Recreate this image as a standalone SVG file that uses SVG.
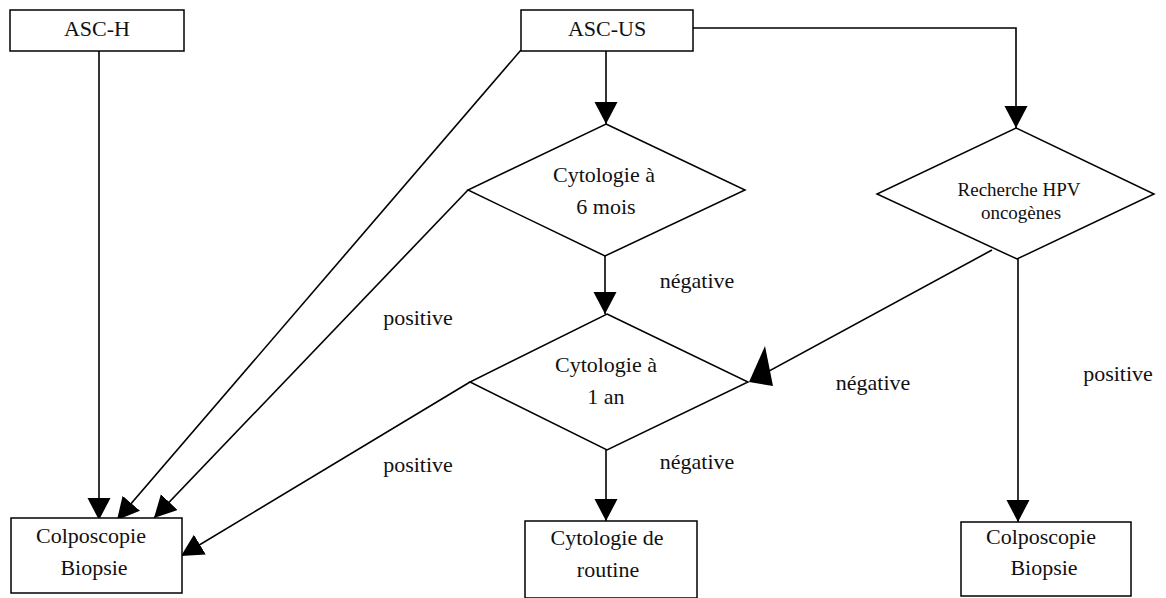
<svg xmlns="http://www.w3.org/2000/svg" width="1166" height="598" viewBox="0 0 1166 598">
<style>
.box{fill:#fff;stroke:#000;stroke-width:1.5}
.t{font-family:"Liberation Serif","Times New Roman",serif;font-size:22px;fill:#111;text-anchor:middle}
.s{font-size:19px}
.c{fill:none;stroke:#000;stroke-width:1.6}
</style>
<defs>
<marker id="ah" markerUnits="userSpaceOnUse" markerWidth="24" markerHeight="24" refX="22" refY="11.5" orient="auto" viewBox="0 0 24 24">
<path d="M0,0 L22,11.5 L0,23 z" fill="#000"/>
</marker>
</defs>
<rect width="1166" height="598" fill="#fff"/>
<g id="connectors">
<line class="c" x1="99" y1="51" x2="99" y2="520" marker-end="url(#ah)"/>
<line class="c" x1="521" y1="50" x2="117" y2="520" marker-end="url(#ah)"/>
<line class="c" x1="468" y1="190" x2="154" y2="518" marker-end="url(#ah)"/>
<line class="c" x1="470" y1="382" x2="181" y2="556" marker-end="url(#ah)"/>
<line class="c" x1="606" y1="51" x2="606" y2="124" marker-end="url(#ah)"/>
<polyline class="c" points="693,28 1016,28 1016,128" marker-end="url(#ah)"/>
<line class="c" x1="605" y1="256" x2="605" y2="314" marker-end="url(#ah)"/>
<line class="c" x1="606" y1="450" x2="606" y2="521" marker-end="url(#ah)"/>
<line class="c" x1="1018" y1="259" x2="1018" y2="522" marker-end="url(#ah)"/>
<line class="c" x1="992" y1="250" x2="760" y2="376"/>
<polygon points="749,382 765,346 773,386" fill="#000"/>
<text class="t" x="418" y="325">positive</text>
<text class="t" x="418" y="472">positive</text>
<text class="t" x="697" y="288">négative</text>
<text class="t" x="697" y="469">négative</text>
<text class="t" x="873" y="390">négative</text>
<text class="t" x="1118" y="381">positive</text>
</g>
<g id="asc-h">
<rect class="box" x="10" y="10" width="174" height="41"/>
<text class="t" x="97" y="36">ASC-H</text>
</g>
<g id="asc-us">
<rect class="box" x="521" y="10" width="172" height="41"/>
<text class="t" x="607" y="36">ASC-US</text>
</g>
<g id="cyto6">
<polygon class="box" points="606,124 745,190 605,256 468,190"/>
<text class="t" x="604" y="182">Cytologie à</text>
<text class="t" x="606" y="214">6 mois</text>
</g>
<g id="cyto1">
<polygon class="box" points="607,314 748,382 607,450 470,382"/>
<text class="t" x="606" y="372">Cytologie à</text>
<text class="t" x="606" y="404">1 an</text>
</g>
<g id="hpv">
<polygon class="box" points="1016,128 1154,194 1017,259 877,194"/>
<text class="t s" x="1019" y="196">Recherche HPV</text>
<text class="t s" x="1021" y="219">oncogènes</text>
</g>
<g id="colpo-left">
<rect class="box" x="11" y="518" width="171" height="75"/>
<text class="t" x="91" y="543">Colposcopie</text>
<text class="t" x="94" y="575">Biopsie</text>
</g>
<g id="cyto-routine">
<rect class="box" x="525" y="521" width="172" height="77"/>
<text class="t" x="607" y="545">Cytologie de</text>
<text class="t" x="608" y="577">routine</text>
</g>
<g id="colpo-right">
<rect class="box" x="961" y="522" width="170" height="74"/>
<text class="t" x="1041" y="544">Colposcopie</text>
<text class="t" x="1044" y="575">Biopsie</text>
</g>
</svg>
